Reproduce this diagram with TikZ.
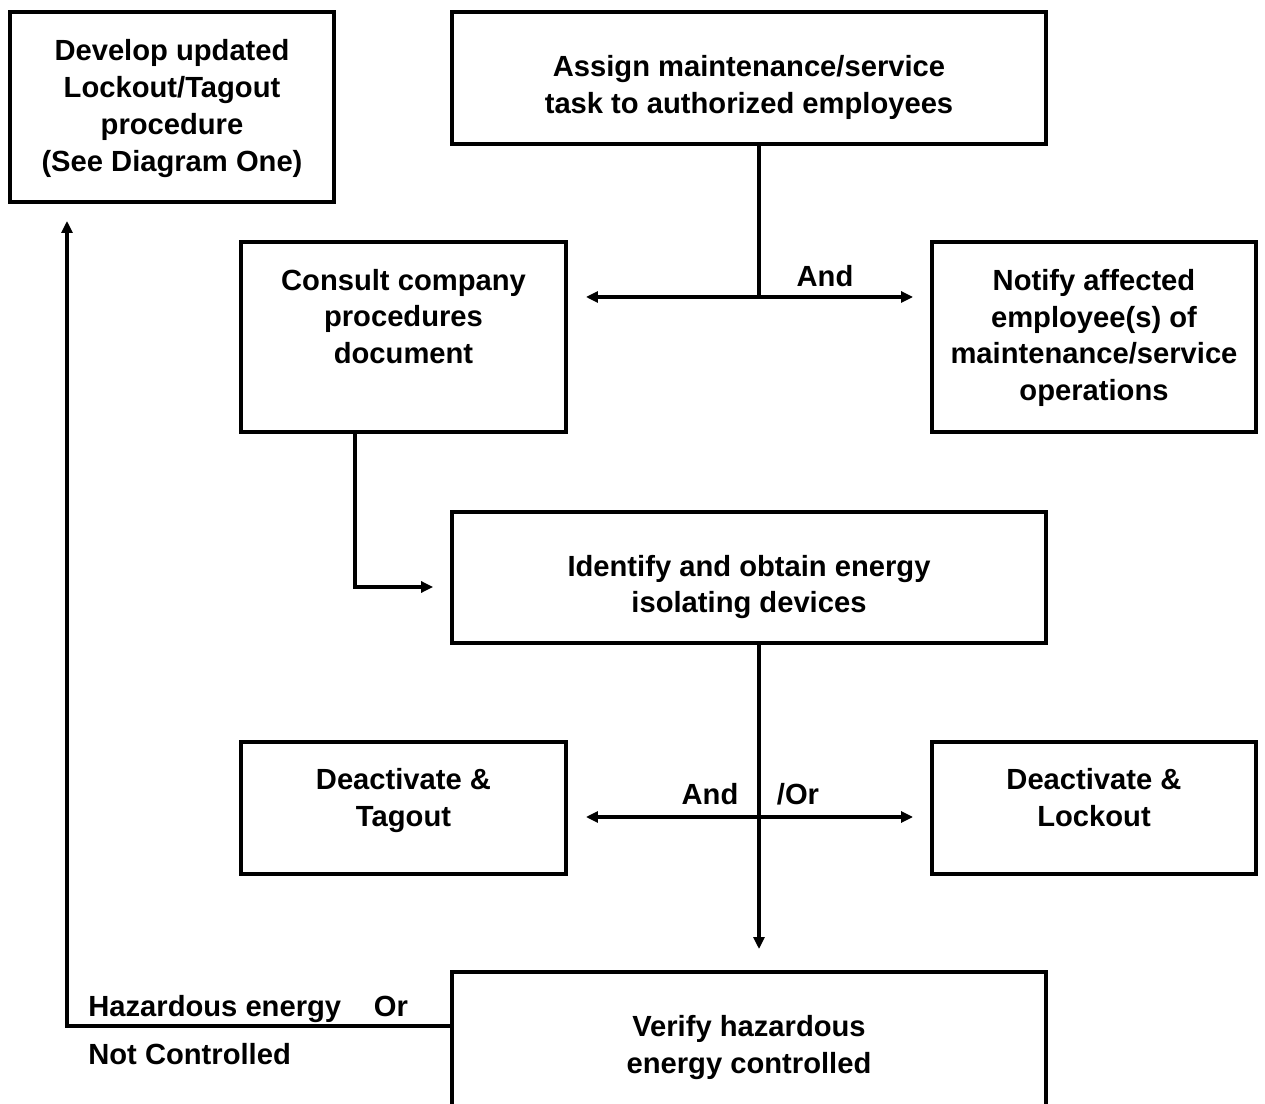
\documentclass[tikz,border=0pt]{standalone}
\usepackage{fontspec}
\setmainfont{Liberation Sans}
\usetikzlibrary{arrows.meta,calc}
\begin{document}
\begin{tikzpicture}[x=0.02cm,y=-0.02cm,
  box/.style={draw,line width=0.085cm,inner sep=0pt,outer sep=0pt},
  txt/.style={align=center,inner sep=0pt,font=\fontsize{16.6}{21}\selectfont\bfseries},
  lbl/.style={inner sep=0pt,font=\fontsize{16.6}{21}\selectfont\bfseries},
  conn/.style={line width=0.085cm},
  tip/.style={-{Triangle[length=0.24cm,width=0.22cm]}},
  tips/.style={{Triangle[length=0.24cm,width=0.22cm]}-{Triangle[length=0.24cm,width=0.22cm]}}]
\useasboundingbox (0,0) rectangle (1265,1104);
% boxes
\node[box,minimum width=6.48cm,minimum height=3.8cm] (develop) at (172,107) {};
\node[box,minimum width=11.88cm,minimum height=2.64cm] (assign) at (749,78) {};
\node[box,minimum width=6.5cm,minimum height=3.8cm] (consult) at (403.5,337) {};
\node[box,minimum width=6.48cm,minimum height=3.8cm] (notify) at (1094,337) {};
\node[box,minimum width=11.88cm,minimum height=2.62cm] (identify) at (749,577.5) {};
\node[box,minimum width=6.5cm,minimum height=2.64cm] (tagout) at (403.5,808) {};
\node[box,minimum width=6.48cm,minimum height=2.64cm] (lockout) at (1094,808) {};
\node[box,minimum width=11.88cm,minimum height=3.56cm] (verify) at (749,1061) {};
% texts
\node[txt] (developt) at (172,108.5) {Develop updated\\Lockout/Tagout\\procedure\\(See Diagram One)};
\node[txt] (assignt) at (749,87.5) {Assign maintenance/service\\task to authorized employees};
\node[txt] (consultt) at (403.5,316.5) {Consult company\\procedures\\document};
\node[txt] (notifyt) at (1094,338) {Notify affected\\employee(s) of\\maintenance/service\\operations};
\node[txt] (identifyt) at (749,587) {Identify and obtain energy\\isolating devices};
\node[txt] (tagoutt) at (403.5,800.5) {Deactivate \&\\Tagout};
\node[txt] (lockoutt) at (1094,797.5) {Deactivate \&\\Lockout};
\node[txt] (verifyt) at (749,1047.5) {Verify hazardous\\energy controlled};
% labels
\node[lbl] (and1) at (825,276) {And};
\node[lbl] (and2) at (710,794) {And};
\node[lbl] (or2) at (798,794) {/Or};
\node[lbl,anchor=west] (haz) at (88,1009) {Hazardous energy};
\node[lbl] (or3) at (391,1006) {Or};
\node[lbl,anchor=west] (notc) at (88,1054) {Not Controlled};
% coordinates
\coordinate (j1) at (759,297);
\coordinate (c1) at (355,587);
\coordinate (j2) at (759,817);
\coordinate (fb) at (67,1026);
% connectors
\draw[conn] (assign.south -| j1) -- (j1);
\draw[conn,tips,shorten <=0.4cm,shorten >=0.38cm] (consult.east |- j1) -- (notify.west |- j1);
\draw[conn,tip,shorten >=0.38cm] (consult.south -| c1) -- (c1) -- (identify.west |- c1);
\draw[conn,tip,shorten >=0.46cm] (identify.south -| j2) -- (verify.north -| j2);
\draw[conn,tips,shorten <=0.4cm,shorten >=0.38cm] (tagout.east |- j2) -- (lockout.west |- j2);
\draw[conn,tip,shorten >=0.38cm] (verify.west |- fb) -- (fb) -- (develop.south -| fb);
\end{tikzpicture}
\end{document}
